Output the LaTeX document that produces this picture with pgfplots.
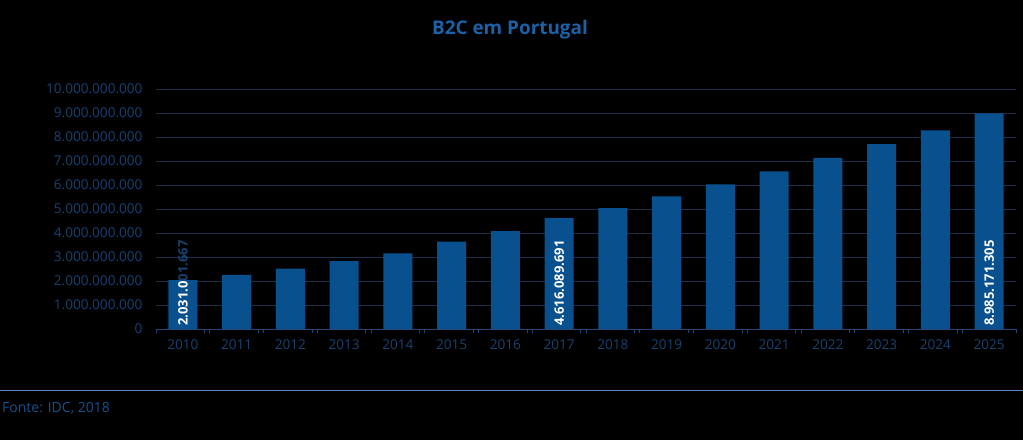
\documentclass[border=0pt]{standalone}
\usepackage{pgfplots}
\pgfplotsset{compat=1.18}
\usepackage{fontspec}
\setmainfont{Open Sans}
\definecolor{barblue}{RGB}{9,80,142}
\definecolor{ticklab}{RGB}{24,66,112}
\definecolor{titleblue}{RGB}{28,96,166}
\definecolor{gridc}{RGB}{30,46,74}
\definecolor{axisc}{RGB}{35,70,120}
\definecolor{footline}{RGB}{95,135,195}
\definecolor{footc}{RGB}{25,80,140}
\begin{document}
\begin{tikzpicture}[x=1bp,y=1bp]
\fill[black] (0,0) rectangle (1023,440);
\useasboundingbox (0,0) rectangle (1023,440);
\begin{axis}[
  at={(156bp,111bp)}, anchor=south west,
  scale only axis, width=860bp, height=240bp,
  xmin=-0.5, xmax=15.5, ymin=0, ymax=1e10,
  scaled y ticks=false,
  axis y line*=left, axis x line*=bottom,
  y axis line style={draw=none},
  x axis line style={draw=axisc, line width=0.8bp, -},
  xtick={-0.5,0.4,0.5,1.4,1.5,2.4,2.5,3.4,3.5,4.4,4.5,5.4,5.5,6.4,6.5,7.4,7.5,8.4,8.5,9.4,9.5,10.4,10.5,11.4,11.5,12.4,12.5,13.4,13.5,14.4,14.5,15.5},
  xticklabels={},
  x tick style={draw=axisc, line width=0.6bp},
  xtick align=outside, major tick length=4bp,
  extra x ticks={0,...,15},
  extra x tick labels={2010,2011,2012,2013,2014,2015,2016,2017,2018,2019,2020,2021,2022,2023,2024,2025},
  extra x tick style={major tick length=0pt, grid=none},
  ytick={0,1e9,2e9,3e9,4e9,5e9,6e9,7e9,8e9,9e9,1e10},
  yticklabels={0,1.000.000.000,2.000.000.000,3.000.000.000,4.000.000.000,5.000.000.000,6.000.000.000,7.000.000.000,8.000.000.000,9.000.000.000,10.000.000.000},
  ymajorgrids, major grid style={draw=gridc, line width=0.8bp},
  y tick style={draw=none},
  ticklabel style={font=\fontsize{13.6bp}{15bp}\selectfont, text=ticklab},
  xticklabel style={yshift=-7bp},
  yticklabel style={xshift=-10bp},
  clip=false,
]
\addplot[ybar, bar width=29bp, bar shift=0pt, fill=barblue, draw=none] coordinates {
(0,2031001667) (1,2250000000) (2,2510000000) (3,2830000000) (4,3150000000)
(5,3640000000) (6,4080000000) (7,4616089691) (8,5040000000) (9,5530000000)
(10,6030000000) (11,6570000000) (12,7130000000) (13,7700000000) (14,8280000000)
(15,8985171305)};
\addplot[ybar, bar width=29bp, bar shift=0pt, fill=none, draw=none,
  point meta=explicit symbolic, nodes near coords,
  every node near coord/.style={rotate=90, anchor=west, inner sep=3bp,
    font=\fontsize{13bp}{15bp}\selectfont\bfseries, text=white}]
coordinates {
(0,0) [\textcolor{white}{2.031.0}\textcolor{ticklab}{01.667}]
(7,0) [4.616.089.691]
(15,0) [8.985.171.305]};
\end{axis}
\node[text=titleblue, font=\fontsize{18.9bp}{21bp}\selectfont\bfseries, anchor=base, inner sep=0] at (510,405) {B2C em Portugal};
\draw[footline, line width=1bp] (0,49) -- (1023,49);
\node[text=footc, font=\fontsize{14bp}{16bp}\selectfont, anchor=base west, inner sep=0] at (2,27) {Fonte: IDC, 2018};
\end{tikzpicture}
\end{document}
